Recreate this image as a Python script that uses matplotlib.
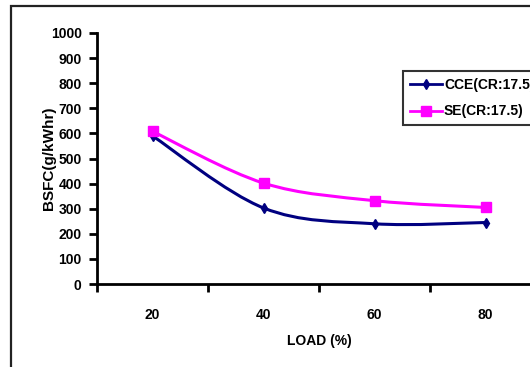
import matplotlib
matplotlib.use("Agg")
import matplotlib.pyplot as plt
import numpy as np
from matplotlib.path import Path
from matplotlib.patches import PathPatch, Rectangle
from matplotlib.lines import Line2D

plt.rcParams['font.family'] = ['Liberation Sans', 'DejaVu Sans']
plt.rcParams['font.weight'] = 'bold'

loads = ['20', '40', '60', '80']
cce = [590, 303, 240, 245]
se = [608, 402, 332, 305]
series_names = ['CCE(CR:17.5)', 'SE(CR:17.5)']
y_ticks = list(range(0, 1001, 100))


def smooth_path(xs, ys):
    """Bezier path through the points, in the style of spreadsheet smoothed lines."""
    pts = np.column_stack([xs, ys]).astype(float)
    n = len(pts)
    verts = [pts[0]]
    codes = [Path.MOVETO]
    for i in range(n - 1):
        p0 = pts[i - 1] if i > 0 else pts[i]
        p1 = pts[i]
        p2 = pts[i + 1]
        p3 = pts[i + 2] if i + 2 < n else pts[i + 1]
        c1 = p1 + (p2 - p0) / 6.0
        c2 = p2 - (p3 - p1) / 6.0
        verts += [c1, c2, p2]
        codes += [Path.CURVE4] * 3
    return Path(verts, codes)


fig = plt.figure(figsize=(5.30, 3.67), dpi=100)
fig.patch.set_facecolor('white')

# outer chart frame
fig.patches.append(Rectangle((11 / 530, -0.1), 1.2, 1 - 6 / 367 + 0.1,
                             transform=fig.transFigure, fill=False,
                             edgecolor='#222222', linewidth=1.6))

ax = fig.add_axes([97 / 530, 1 - 284 / 367, 444 / 530, 251 / 367])
x = np.arange(len(loads))

colors = ['#000080', '#FF00FF']
markers = ['d', 's']
msizes = [5, 6.5]
for vals, c, m, ms in zip([cce, se], colors, markers, msizes):
    ax.add_patch(PathPatch(smooth_path(x, vals), facecolor='none',
                           edgecolor=c, linewidth=2.2, zorder=3))
    ax.plot(x, vals, linestyle='none', marker=m, color=c, markersize=ms, zorder=4)

ax.set_xlim(-0.5, len(loads) - 0.5)
ax.set_ylim(0, 1000)
ax.set_yticks(y_ticks)
ax.set_xticks(x)
ax.set_xticklabels(loads)
ax.set_xticks(np.arange(-0.5, len(loads), 1.0), minor=True)
ax.tick_params(axis='x', which='major', length=0, pad=17, labelsize=10)
ax.tick_params(axis='x', which='minor', length=6, width=2, direction='out')
ax.tick_params(axis='y', length=6, width=2, direction='out', labelsize=10, pad=5)

for s in ['top', 'right']:
    ax.spines[s].set_visible(False)
for s in ['left', 'bottom']:
    ax.spines[s].set_linewidth(2)
    ax.spines[s].set_color('black')

ax.set_ylabel('BSFC(g/kWhr)', fontsize=11, fontweight='bold', va='center')
ax.yaxis.set_label_coords(-0.108, 0.5)
ax.set_xlabel('LOAD (%)', fontsize=10, fontweight='bold', labelpad=9)

handles = [Line2D([0], [0], color=c, marker=m, markersize=ms, linewidth=2)
           for c, m, ms in zip(colors, markers, msizes)]
leg = ax.legend(handles, series_names, loc='upper left',
                bbox_to_anchor=(403 / 530, 1 - 71 / 367), bbox_transform=fig.transFigure,
                frameon=True, fancybox=False, prop={'weight': 'bold', 'size': 10},
                handlelength=2.3, handletextpad=0.15, borderpad=0.5, labelspacing=0.9,
                borderaxespad=0)
leg.get_frame().set_edgecolor('black')
leg.get_frame().set_linewidth(1.5)

fig.savefig('out.png', dpi=100)
